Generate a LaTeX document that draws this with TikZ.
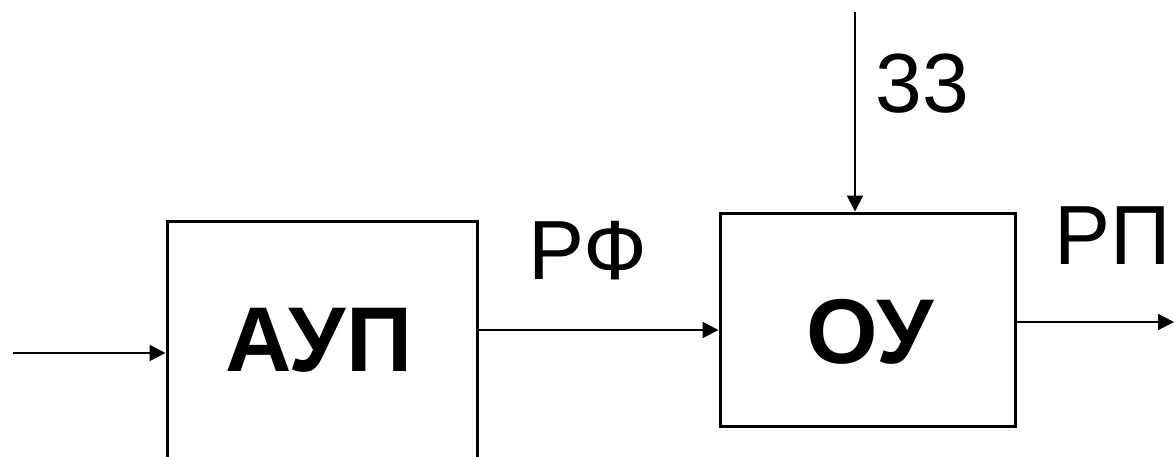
\documentclass[tikz,border=0pt]{standalone}
\usepackage{fontspec}
\setmainfont{Liberation Sans}
\usetikzlibrary{arrows.meta}
\tikzset{
  blk/.style={draw=black, line width=3pt, inner sep=0pt, fill=none},
  arr/.style={line width=2pt, -{Triangle[length=16pt,width=16pt]}},
  boldlbl/.style={inner sep=0pt, font=\fontsize{92}{110}\selectfont\bfseries},
  lbl/.style={inner sep=0pt, font=\fontsize{84}{100}\selectfont},
}
\begin{document}
\begin{tikzpicture}[x=1pt,y=-1pt]
\clip (0,0) rectangle (1174,456);
\fill[white] (0,0) rectangle (1174,456);
% blocks
\node[blk, minimum width=310pt, minimum height=238pt] (aup) at (322,340) {};
\node[blk, minimum width=295pt, minimum height=213pt] (ou) at (867.5,319.5) {};
\node[boldlbl] (aupt) at (319,340) {АУП};
\node[boldlbl] (out) at (870,332) {ОУ};
% free ends
\coordinate (inp) at (13,353);
\coordinate (zz) at (855,12);
\coordinate (outp) at (1174,322);
% connectors
\draw[arr] (inp) -- (inp -| aup.west);
\draw[arr] (aup.east |- 0,330) -- (ou.west |- 0,330);
\draw[arr] (zz) -- (zz |- ou.north);
\draw[arr] (ou.east |- outp) -- (outp);
% labels
\node[lbl] (l33) at (922,84) {33};
\node[lbl] (lrf) at (588,251) {РФ};
\node[lbl] (lrp) at (1113,236) {РП};
\end{tikzpicture}
\end{document}
